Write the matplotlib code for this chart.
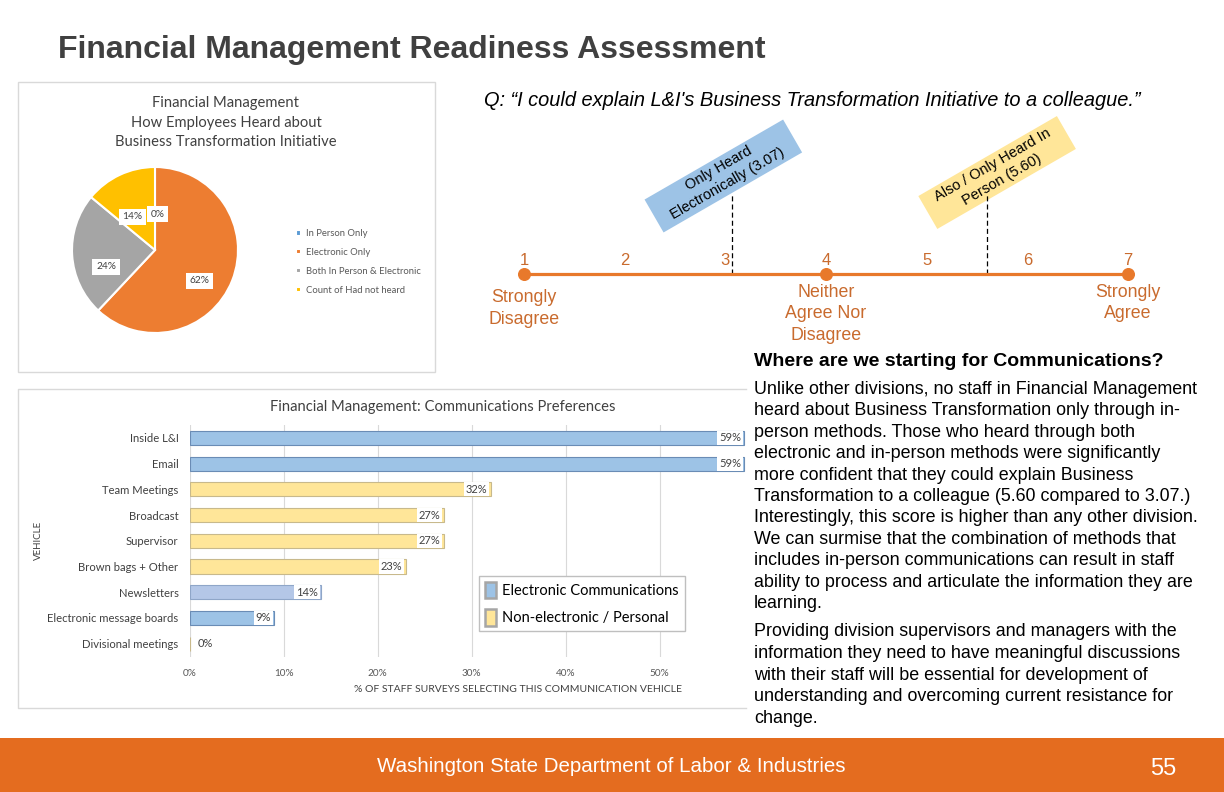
import matplotlib
matplotlib.use("Agg")
import matplotlib.pyplot as plt
from matplotlib.patches import Rectangle, Patch

# --- data -------------------------------------------------------------
pie_labels = ["In Person Only", "Electronic Only",
              "Both In Person & Electronic", "Count of Had not heard"]
pie_values = [0, 62, 24, 14]

vehicles = ["Inside L&I", "Email", "Team Meetings", "Broadcast", "Supervisor",
            "Brown bags + Other", "Newsletters", "Electronic message boards",
            "Divisional meetings"]
vehicle_pct = [59, 59, 32, 27, 27, 23, 14, 9, 0]
legend_labels = ["Electronic Communications", "Non-electronic / Personal"]

scale_points = [1, 2, 3, 4, 5, 6, 7]
scale_anchor_points = [1, 4, 7]
scale_anchor_text = ["Strongly\nDisagree", "Neither\nAgree Nor\nDisagree", "Strongly\nAgree"]
score_electronic = 3.07
score_in_person = 5.60

question = "Q: \u201cI could explain L&I's Business Transformation Initiative to a colleague.\u201d"
heading = "Where are we starting for Communications?"
para1 = [
    "Unlike other divisions, no staff in Financial Management",
    "heard about Business Transformation only through in-",
    "person methods. Those who heard through both",
    "electronic and in-person methods were significantly",
    "more confident that they could explain Business",
    "Transformation to a colleague (5.60 compared to 3.07.)",
    "Interestingly, this score is higher than any other division.",
    "We can surmise that the combination of methods that",
    "includes in-person communications can result in staff",
    "ability to process and articulate the information they are",
    "learning.",
]
para2 = [
    "Providing division supervisors and managers with the",
    "information they need to have meaningful discussions",
    "with their staff will be essential for development of",
    "understanding and overcoming current resistance for",
    "change.",
]

# --- style ------------------------------------------------------------
W, H = 1224, 792
SLIDE = ["Liberation Sans", "DejaVu Sans"]
CHART = ["Lato", "DejaVu Sans"]
plt.rcParams["font.family"] = CHART

pie_colors = ["#5B9BD5", "#ED7D31", "#A5A5A5", "#FFC000"]
pie_label_xy = [(0.03, 0.43), (0.54, -0.37), (-0.59, -0.2), (-0.27, 0.40)]
bar_colors = ["#9DC3E6", "#9DC3E6", "#FFE699", "#FFE699", "#FFE699",
              "#FFE699", "#B4C7E7", "#9DC3E6", "#FFE699"]
bar_edges = ["#6A8CB5", "#6A8CB5", "#C8B98C", "#C8B98C", "#C8B98C",
             "#C8B98C", "#8FA6C8", "#6A8CB5", "#C8B98C"]
ORANGE = "#E8792B"
ORANGE_TXT = "#C96B2E"
GRAY_TXT = "#404040"


def rect(x0, y0, x1, y1):
    return [x0 / W, 1 - y1 / H, (x1 - x0) / W, (y1 - y0) / H]


fig = plt.figure(figsize=(W / 100, H / 100), dpi=100)

# background / slide furniture (pixel coordinates)
ov = fig.add_axes([0, 0, 1, 1], zorder=-1)
ov.set_xlim(0, W)
ov.set_ylim(H, 0)
ov.axis("off")
ov.add_patch(Rectangle((18, 82), 417, 290, fill=False, ec="#D9D9D9", lw=1))
ov.plot([746, 18, 18, 746], [389, 389, 708, 708], color="#D9D9D9", lw=1)
ov.add_patch(Rectangle((0, 738), W, 54, color="#E46C1F", lw=0))
ov.text(58, 58, "Financial Management Readiness Assessment", fontsize=23,
        fontweight="bold", color=GRAY_TXT, family=SLIDE, va="baseline")
ov.text(611, 772, "Washington State Department of Labor & Industries",
        fontsize=14.8, color="white", family=SLIDE, ha="center", va="baseline")
ov.text(1163, 775, "55", fontsize=17, color="white", family=SLIDE,
        ha="center", va="baseline")

# pie panel
for i, line in enumerate(["Financial Management", "How Employees Heard about",
                          "Business Transformation Initiative"]):
    ov.text(226, 107.5 + i * 19.5, line, fontsize=10.6, color=GRAY_TXT,
            ha="center", va="baseline")

ax_p = fig.add_axes(rect(72, 167, 238, 333))
wedges, _ = ax_p.pie(pie_values, colors=pie_colors, startangle=90,
                     counterclock=False,
                     wedgeprops=dict(edgecolor="white", linewidth=1.5))
ax_p.set_xlim(-1, 1)
ax_p.set_ylim(-1, 1)
for v, (x, y) in zip(pie_values, pie_label_xy):
    ax_p.text(x, y, f"{v}%", ha="center", va="center", fontsize=7.3,
              color=GRAY_TXT,
              bbox=dict(fc="white", ec="none", boxstyle="square,pad=0.35"))
fig.legend(wedges, pie_labels, loc="upper left",
           bbox_to_anchor=(296 / W, 1 - 229 / H), frameon=False,
           fontsize=6.8, handlelength=0.55, handleheight=0.55,
           handletextpad=0.5, labelspacing=1.05, borderpad=0,
           borderaxespad=0, labelcolor="#595959")

# bar chart
ov.text(443, 411, "Financial Management: Communications Preferences",
        fontsize=10.6, color=GRAY_TXT, ha="center", va="baseline")
ax_b = fig.add_axes(rect(189.7, 425, 753.7, 656.5))
ax_b.set_facecolor("none")
ypos = list(range(len(vehicles)))
ax_b.barh(ypos, vehicle_pct, height=0.55, color=bar_colors,
          edgecolor=bar_edges, linewidth=0.8, zorder=2)
for y, v in zip(ypos, vehicle_pct):
    if v > 0:
        ax_b.text(v - 0.35, y, f"{v}%", ha="right", va="center", fontsize=8,
                  color=GRAY_TXT, zorder=3,
                  bbox=dict(fc="white", ec="none", boxstyle="square,pad=0.15"))
    else:
        ax_b.text(0.8, y, f"{v}%", ha="left", va="center", fontsize=8,
                  color=GRAY_TXT, zorder=3)
ax_b.set_xlim(0, 60)
ax_b.set_ylim(len(vehicles) - 0.5, -0.5)
ax_b.set_xticks(range(0, 60, 10))
ax_b.set_xticklabels([f"{t}%" for t in range(0, 60, 10)])
ax_b.set_yticks(ypos)
ax_b.set_yticklabels(vehicles)
ax_b.tick_params(axis="x", length=0, labelsize=7.2, labelcolor="#595959", pad=9)
ax_b.tick_params(axis="y", length=0, labelsize=8.1, labelcolor=GRAY_TXT, pad=8)
ax_b.grid(axis="x", color="#D9D9D9", lw=0.8, zorder=0)
for s in ax_b.spines.values():
    s.set_visible(False)
ov.text(518, 692, "% OF STAFF SURVEYS SELECTING THIS COMMUNICATION VEHICLE",
        fontsize=7.5, color=GRAY_TXT, ha="center", va="baseline")
ov.text(38, 540, "VEHICLE", fontsize=7, color=GRAY_TXT, rotation=90,
        ha="center", va="center")
leg_handles = [Patch(fc="#9DC3E6", ec="#A6A6A6", lw=1.8),
               Patch(fc="#FFE699", ec="#A6A6A6", lw=1.8)]
fig.legend(leg_handles, legend_labels, loc="upper left",
           bbox_to_anchor=(479 / W, 1 - 576 / H), frameon=True,
           fancybox=False, edgecolor="#BFBFBF", framealpha=1,
           fontsize=10.5, handlelength=0.75, handleheight=1.35,
           handletextpad=0.45, borderpad=0.4, labelspacing=0.75,
           borderaxespad=0)

# agreement scale
ov.text(484, 106, question, fontsize=14.4, style="italic", family=SLIDE,
        va="baseline")
ax_s = fig.add_axes(rect(473.7, 85, 1178.3, 345))
ax_s.set_facecolor("none")
ax_s.set_xlim(0.5, 7.5)
ax_s.set_ylim(-71, 189)
ax_s.axis("off")
ax_s.plot([scale_points[0], scale_points[-1]], [0, 0], color=ORANGE, lw=2.3,
          solid_capstyle="butt", zorder=2)
ax_s.scatter(scale_anchor_points, [0] * len(scale_anchor_points), s=70,
             color=ORANGE, zorder=3)
for p in scale_points:
    ax_s.text(p, 9, str(p), ha="center", va="baseline", fontsize=12,
              color=ORANGE_TXT, family=SLIDE)
for p, txt, y0 in zip(scale_anchor_points, scale_anchor_text, [-28, -23, -23]):
    for i, line in enumerate(txt.split("\n")):
        ax_s.text(p, y0 - i * 21.5, line, ha="center", va="baseline",
                  fontsize=12.8, color=ORANGE_TXT, family=SLIDE)
for s in [score_electronic, score_in_person]:
    ax_s.plot([s, s], [0, 79], color="black", lw=0.9, ls=(0, (4, 2.5)), zorder=1)

# rotated call-out boxes: centre placed relative to each score, drawn in pixels
callouts = [
    (score_electronic, -0.09, 98, "#9DC3E6",
     f"Only Heard\nElectronically ({score_electronic:.2f})"),
    (score_in_person, 0.1, 101.5, "#FFE699",
     f"Also / Only Heard In\nPerson ({score_in_person:.2f})"),
]
to_px = ax_s.transData + ov.transData.inverted()
for s, dx, y, col, txt in callouts:
    cx, cy = to_px.transform((s + dx, y))
    ov.add_patch(Rectangle((cx - 80, cy - 19), 160, 38, angle=-30,
                           rotation_point="center", fc=col, ec="none",
                           zorder=4))
    ov.text(cx, cy, txt, rotation=30, rotation_mode="anchor", ha="center",
            va="center", fontsize=10.5, family=SLIDE, linespacing=1.3,
            zorder=5)

# commentary
ov.text(754, 366, heading, fontsize=14, fontweight="bold", family=SLIDE,
        va="baseline")
for i, line in enumerate(para1):
    ov.text(754, 394 + i * 21.4, line, fontsize=12.9, family=SLIDE,
            va="baseline")
for i, line in enumerate(para2):
    ov.text(754, 636 + i * 21.75, line, fontsize=12.9, family=SLIDE,
            va="baseline")

fig.savefig("out.png", dpi=100)
